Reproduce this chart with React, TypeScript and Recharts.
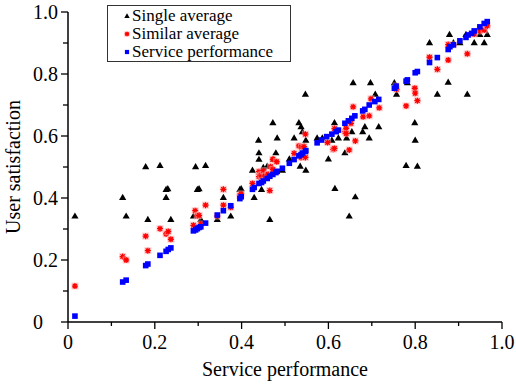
import { ScatterChart, Scatter, XAxis, YAxis, Legend } from 'recharts';

const FONT = "'Liberation Serif', 'Times New Roman', serif";

// [service performance, user satisfaction]
const singleAverage: [number, number][] = [
    [0.016, 0.342], [0.126, 0.402], [0.134, 0.342], [0.179, 0.501], [0.184, 0.331], [0.212, 0.505],
    [0.226, 0.428], [0.23, 0.43], [0.226, 0.402], [0.237, 0.331], [0.289, 0.342], [0.294, 0.501],
    [0.298, 0.428], [0.302, 0.43], [0.306, 0.331], [0.317, 0.505], [0.344, 0.331], [0.358, 0.402],
    [0.375, 0.342], [0.396, 0.428], [0.399, 0.43], [0.425, 0.49], [0.429, 0.402], [0.439, 0.587],
    [0.44, 0.546], [0.44, 0.525], [0.446, 0.428], [0.45, 0.499], [0.459, 0.503], [0.465, 0.331],
    [0.472, 0.643], [0.473, 0.525], [0.479, 0.546], [0.482, 0.594], [0.494, 0.49], [0.51, 0.526],
    [0.521, 0.594], [0.532, 0.643], [0.535, 0.503], [0.537, 0.63], [0.54, 0.614], [0.547, 0.735],
    [0.548, 0.587], [0.548, 0.49], [0.574, 0.594], [0.586, 0.594], [0.6, 0.526], [0.608, 0.587],
    [0.614, 0.643], [0.615, 0.431], [0.623, 0.594], [0.638, 0.546], [0.642, 0.594], [0.648, 0.342],
    [0.654, 0.614], [0.657, 0.772], [0.662, 0.404], [0.679, 0.614], [0.684, 0.63], [0.694, 0.594],
    [0.697, 0.772], [0.708, 0.735], [0.716, 0.63], [0.752, 0.772], [0.757, 0.735], [0.779, 0.505],
    [0.782, 0.772], [0.799, 0.643], [0.8, 0.587], [0.805, 0.503], [0.833, 0.901], [0.851, 0.735],
    [0.876, 0.774], [0.879, 0.928], [0.888, 0.901], [0.903, 0.901], [0.917, 0.928], [0.92, 0.735],
    [0.936, 0.901], [0.949, 0.928], [0.959, 0.901], [0.966, 0.928],
];

const similarAverage: [number, number][] = [
    [0.016, 0.116], [0.126, 0.211], [0.134, 0.2], [0.179, 0.277], [0.184, 0.23], [0.212, 0.301],
    [0.226, 0.284], [0.231, 0.292], [0.237, 0.267], [0.289, 0.312], [0.293, 0.359], [0.298, 0.342],
    [0.302, 0.344], [0.306, 0.316], [0.317, 0.377], [0.344, 0.342], [0.358, 0.428], [0.358, 0.377],
    [0.375, 0.37], [0.396, 0.409], [0.399, 0.413], [0.425, 0.447], [0.44, 0.485], [0.44, 0.469],
    [0.445, 0.474], [0.45, 0.488], [0.454, 0.471], [0.461, 0.477], [0.465, 0.424], [0.467, 0.501],
    [0.472, 0.525], [0.472, 0.492], [0.481, 0.517], [0.521, 0.544], [0.532, 0.568], [0.537, 0.531],
    [0.538, 0.564], [0.544, 0.566], [0.547, 0.606], [0.547, 0.531], [0.598, 0.579], [0.611, 0.557],
    [0.614, 0.56], [0.614, 0.624], [0.638, 0.614], [0.641, 0.625], [0.641, 0.608], [0.648, 0.555],
    [0.652, 0.641], [0.657, 0.694], [0.662, 0.584], [0.68, 0.662], [0.694, 0.665], [0.698, 0.72],
    [0.717, 0.691], [0.756, 0.761], [0.757, 0.751], [0.779, 0.697], [0.799, 0.754], [0.8, 0.738],
    [0.805, 0.714], [0.833, 0.854], [0.851, 0.815], [0.876, 0.895], [0.876, 0.845], [0.888, 0.894],
    [0.92, 0.865], [0.936, 0.929], [0.949, 0.939], [0.959, 0.942], [0.966, 0.955],
];

const servicePerformance: [number, number][] = [
    [0.016, 0.019], [0.126, 0.129], [0.134, 0.135], [0.179, 0.182], [0.184, 0.187], [0.212, 0.215],
    [0.226, 0.228], [0.231, 0.234], [0.237, 0.239], [0.289, 0.294], [0.294, 0.297], [0.298, 0.301],
    [0.302, 0.305], [0.306, 0.307], [0.317, 0.319], [0.344, 0.345], [0.358, 0.359], [0.375, 0.375],
    [0.396, 0.398], [0.399, 0.404], [0.425, 0.428], [0.429, 0.434], [0.44, 0.447], [0.446, 0.45],
    [0.45, 0.455], [0.459, 0.463], [0.465, 0.47], [0.472, 0.476], [0.479, 0.482], [0.482, 0.486],
    [0.494, 0.496], [0.51, 0.512], [0.521, 0.524], [0.532, 0.536], [0.537, 0.54], [0.54, 0.545],
    [0.547, 0.55], [0.548, 0.553], [0.574, 0.578], [0.584, 0.587], [0.596, 0.598], [0.608, 0.606],
    [0.618, 0.614], [0.623, 0.619], [0.638, 0.641], [0.646, 0.649], [0.654, 0.657], [0.661, 0.665],
    [0.679, 0.681], [0.684, 0.686], [0.694, 0.7], [0.707, 0.711], [0.716, 0.718], [0.752, 0.754],
    [0.756, 0.761], [0.779, 0.777], [0.782, 0.781], [0.8, 0.804], [0.805, 0.808], [0.833, 0.837],
    [0.851, 0.853], [0.876, 0.879], [0.88, 0.888], [0.888, 0.894], [0.903, 0.907], [0.917, 0.918],
    [0.922, 0.926], [0.93, 0.931], [0.936, 0.939], [0.949, 0.952], [0.959, 0.963], [0.966, 0.969],
];

const majorTicks = [0, 0.2, 0.4, 0.6, 0.8, 1.0];
const majorLabels = ['0', '0.2', '0.4', '0.6', '0.8', '1.0'];
const minorTicks = [0.1, 0.3, 0.5, 0.7, 0.9];
const allTicks = [...majorTicks, ...minorTicks].sort((a, b) => a - b);

const toPoints = (arr: [number, number][]) => arr.map(([x, y]) => ({ x, y }));

// markers
const TriangleMark = ({ cx, cy, s = 1 }: any) => (
    <polygon
        points={`${cx},${cy - 3.6 * s} ${cx - 3.6 * s},${cy + 2.6 * s} ${cx + 3.6 * s},${cy + 2.6 * s}`}
        fill="#000"
    />
);

const StarMark = ({ cx, cy, s = 1 }: any) => {
    const r = 3 * s;
    const d = 2.2 * s;
    return (
        <g>
            <rect x={cx - r - 0.6} y={cy - r - 0.6} width={2 * r + 1.2} height={2 * r + 1.2} fill="#ffb4b4" opacity={0.55} />
            <path
                d={`M${cx - r},${cy}H${cx + r}M${cx},${cy - r}V${cy + r}M${cx - d},${cy - d}L${cx + d},${cy + d}M${cx - d},${cy + d}L${cx + d},${cy - d}`}
                stroke="#ff0000"
                strokeWidth={1.3}
            />
        </g>
    );
};

const SquareMark = ({ cx, cy, s = 1 }: any) => (
    <rect x={cx - 2.8 * s} y={cy - 2.8 * s} width={5.6 * s} height={5.6 * s} fill="#0000ff" />
);

const legendItems = [
    { name: 'Single average', Mark: TriangleMark },
    { name: 'Similar average', Mark: StarMark },
    { name: 'Service performance', Mark: SquareMark },
];

function XTick({ x, y, payload }: any) {
    const i = majorTicks.indexOf(payload.value);
    const major = i >= 0;
    return (
        <g>
            <line x1={x} y1={y} x2={x} y2={y + (major ? 7 : 4)} stroke="#000" strokeWidth={1.3} />
            {major && (
                <text x={x} y={y + 27} textAnchor="middle" fontSize={20} fontFamily={FONT} fill="#000">
                    {majorLabels[i]}
                </text>
            )}
        </g>
    );
}

function YTick({ x, y, payload }: any) {
    const i = majorTicks.indexOf(payload.value);
    const major = i >= 0;
    return (
        <g>
            <line x1={x - (major ? 7 : 5)} y1={y} x2={x} y2={y} stroke="#000" strokeWidth={1.3} />
            {major && (
                <text x={x - 35} y={y + 7} textAnchor="start" fontSize={20} fontFamily={FONT} fill="#000">
                    {majorLabels[i]}
                </text>
            )}
        </g>
    );
}

function LegendBox() {
    return (
        <div
            style={{
                border: '1px solid #333',
                background: '#fff',
                width: 182,
                height: 54,
                fontFamily: FONT,
                fontSize: 17,
                lineHeight: '18px',
                color: '#000',
                paddingTop: 1,
                boxSizing: 'content-box',
            }}
        >
            {legendItems.map(({ name, Mark }) => (
                <div key={name} style={{ display: 'flex', alignItems: 'center', height: 18 }}>
                    <svg width={10} height={10} style={{ marginLeft: 14 }}>
                        <Mark cx={5} cy={5} s={0.75} />
                    </svg>
                    <span style={{ whiteSpace: 'nowrap' }}>{name}</span>
                </div>
            ))}
        </div>
    );
}

export default function App() {
    return (
        <div style={{ position: 'absolute', left: 0, top: 0, background: '#fff', fontFamily: FONT }}>
            <ScatterChart width={516} height={384} margin={{ top: 12, right: 14, bottom: 0, left: 0 }}>
                <XAxis
                    type="number"
                    dataKey="x"
                    domain={[0, 1]}
                    ticks={allTicks}
                    interval={0}
                    height={62}
                    tickSize={0}
                    tickMargin={0}
                    tickLine={false}
                    tick={XTick}
                    axisLine={{ stroke: '#000', strokeWidth: 1.5 }}
                    label={() => (
                        <text x={285} y={376} textAnchor="middle" fontSize={20} fontFamily={FONT} fill="#000">
                            Service performance
                        </text>
                    )}
                />
                <YAxis
                    type="number"
                    dataKey="y"
                    domain={[0, 1]}
                    ticks={allTicks}
                    interval={0}
                    width={68}
                    tickSize={0}
                    tickMargin={0}
                    tickLine={false}
                    tick={YTick}
                    axisLine={{ stroke: '#000', strokeWidth: 1.5 }}
                    label={() => (
                        <text
                            x={20}
                            y={167}
                            transform="rotate(-90, 20, 167)"
                            textAnchor="middle"
                            fontSize={20}
                            fontFamily={FONT}
                            fill="#000"
                        >
                            User satisfaction
                        </text>
                    )}
                />
                <Legend
                    layout="vertical"
                    align="center"
                    verticalAlign="middle"
                    content={LegendBox}
                    wrapperStyle={{ left: 107, top: 5, width: 184, fontFamily: FONT }}
                />
                <Scatter
                    name="Single average"
                    data={toPoints(singleAverage)}
                    shape={TriangleMark}
                    isAnimationActive={false}
                />
                <Scatter
                    name="Similar average"
                    data={toPoints(similarAverage)}
                    shape={StarMark}
                    isAnimationActive={false}
                />
                <Scatter
                    name="Service performance"
                    data={toPoints(servicePerformance)}
                    shape={SquareMark}
                    isAnimationActive={false}
                />
            </ScatterChart>
        </div>
    );
}
